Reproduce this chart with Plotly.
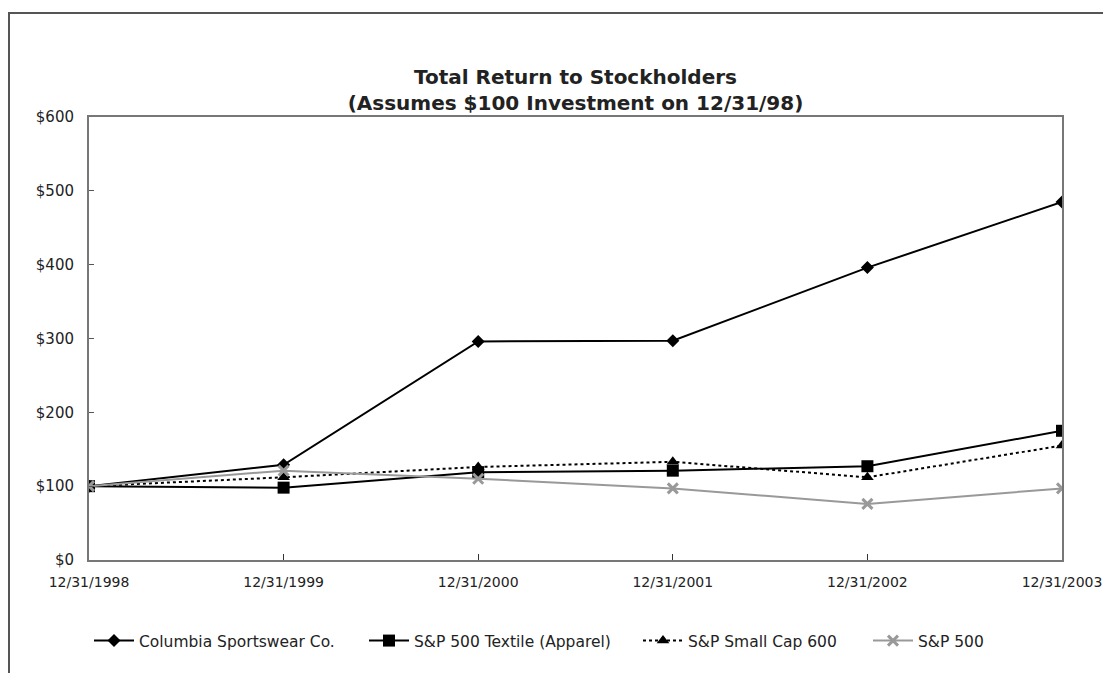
import plotly.graph_objects as go

dates = ["12/31/1998", "12/31/1999", "12/31/2000", "12/31/2001", "12/31/2002", "12/31/2003"]
columbia = [100, 129, 296, 297, 396, 485]
textile = [100, 98, 119, 121, 127, 175]
smallcap = [100, 112, 126, 133, 112, 155]
sp500 = [100, 121, 110, 97, 76, 97]
yticks = [0, 100, 200, 300, 400, 500, 600]
ytext = ["$0", "$100", "$200", "$300", "$400", "$500", "$600"]

xpos = list(range(len(dates)))

fig = go.Figure()
fig.add_trace(go.Scatter(x=xpos, y=columbia, name="Columbia Sportswear Co.", mode="lines+markers", legend="legend",
                         line=dict(color="black", width=2), marker=dict(symbol="diamond", size=10, color="black")))
fig.add_trace(go.Scatter(x=xpos, y=textile, name="S&P 500 Textile (Apparel)", mode="lines+markers", legend="legend2",
                         line=dict(color="black", width=2), marker=dict(symbol="square", size=12, color="black")))
fig.add_trace(go.Scatter(x=xpos, y=smallcap, name="S&P Small Cap 600", mode="lines+markers", legend="legend3",
                         line=dict(color="black", width=2, dash="dot"), marker=dict(symbol="triangle-up", size=11, color="black")))
fig.add_trace(go.Scatter(x=xpos, y=sp500, name="S&P 500", mode="lines+markers", legend="legend4",
                         line=dict(color="#999999", width=2), marker=dict(symbol="x-thin", size=10, color="#999999",
                                                                          line=dict(color="#999999", width=3))))

OFF = 8  # page body margin
W, H = 1111 - 2 * OFF, 681 - 2 * OFF
L, R, T, B = 89 - OFF, 1062 - OFF, 117 - OFF, 560 - OFF

def px(x):
    return (x - OFF - L) / (R - L)
def py(y):
    return (B - (y - OFF)) / (B - T)

fig.add_shape(type="path", xref="paper", yref="paper",
              path=f"M {px(9)} {py(700)} L {px(9)} {py(13)} L {px(1130)} {py(13)}",
              line=dict(color="#555555", width=2))

def leg(xref_px):
    return dict(orientation="h", x=px(xref_px), y=py(641), xanchor="left", yanchor="middle",
                font=dict(size=15.5), itemwidth=40, bgcolor="rgba(0,0,0,0)")

fig.update_layout(
    width=W, height=H,
    margin=dict(l=L, r=W - R, t=T, b=H - B, autoexpand=False),
    paper_bgcolor="white", plot_bgcolor="white",
    font=dict(family="DejaVu Sans, sans-serif", size=15, color="#222222"),
    title=dict(text="<b>Total Return to Stockholders<br>(Assumes $100 Investment on 12/31/98)</b>",
               x=((575.5 - OFF) / W), xanchor="center", y=1 - (84 - OFF) / H, yanchor="middle",
               font=dict(size=20, color="#222222", family="DejaVu Sans, sans-serif")),
    showlegend=True,
    legend=leg(89),
    legend2=leg(364),
    legend3=leg(638),
    legend4=leg(868),
    xaxis=dict(range=[0, 5], tickvals=xpos, ticktext=dates, showgrid=False, zeroline=False,
               showline=True, linecolor="#777777", linewidth=2, mirror=True,
               ticks="inside", ticklen=6, tickcolor="#333333", tickwidth=1, ticklabelstandoff=8,
               tickfont=dict(size=14), ticklabeloverflow="allow"),
    yaxis=dict(range=[0, 600], tickvals=yticks, ticktext=ytext, showgrid=False, zeroline=False,
               showline=True, linecolor="#777777", linewidth=2, mirror=True,
               ticks="inside", ticklen=5, tickcolor="#555555", tickwidth=1, ticklabelstandoff=10),
)

fig.write_html("out.html")
